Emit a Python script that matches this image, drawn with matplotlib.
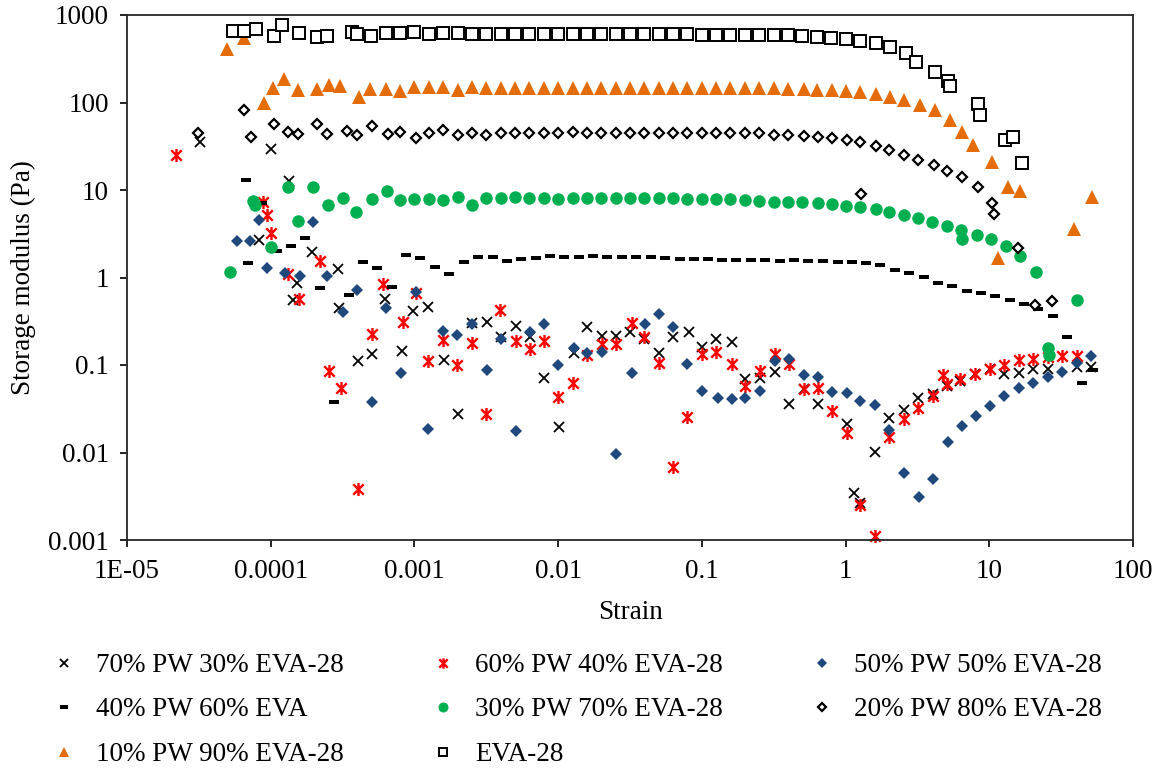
import matplotlib
matplotlib.use('Agg')
import matplotlib.pyplot as plt
from matplotlib.lines import Line2D
from matplotlib.path import Path
from matplotlib.ticker import NullLocator

plt.rcParams['font.family'] = ['Liberation Serif', 'DejaVu Serif']
FS = 19.5

# ---------------- data (strain, storage modulus in Pa) ----------------
PLATEAU_STRAIN = [2.51e-3, 3.16e-3, 3.98e-3, 5.01e-3, 6.31e-3, 7.94e-3, 1.0e-2, 1.26e-2,
                  1.58e-2, 2.0e-2, 2.51e-2, 3.16e-2, 3.98e-2, 5.01e-2, 6.31e-2, 7.94e-2,
                  0.1, 0.126, 0.158, 0.2, 0.251, 0.316]

x_70 = [3.2e-5, 8.3e-5, 1.0e-4, 1.34e-4, 1.43e-4, 1.53e-4, 1.94e-4, 2.94e-4, 2.99e-4, 4.07e-4,
        5.1e-4, 6.2e-4, 8.2e-4, 9.8e-4, 1.25e-3, 1.61e-3, 2.02e-3, 2.52e-3, 3.2e-3, 4.0e-3,
        5.1e-3, 6.4e-3, 8.0e-3, 1.02e-2, 1.28e-2, 1.6e-2, 2.03e-2, 2.54e-2, 3.18e-2, 3.98e-2,
        5.07e-2, 6.3e-2, 8.1e-2, 0.101, 0.126, 0.161, 0.201, 0.252, 0.321, 0.401,
        0.51, 0.638, 1.02, 1.14, 1.27, 1.59, 2.02, 2.53, 3.17, 4.03,
        5.05, 6.3, 7.9, 10.1, 12.6, 16.0, 20.0, 25.5, 40.6, 50.8]
y_70 = [35.4, 2.68, 29.4, 12.7, 0.553, 0.865, 1.96, 1.25, 0.448, 0.111,
        0.134, 0.568, 0.145, 0.414, 0.46, 0.114, 0.0275, 0.302, 0.31, 0.209,
        0.279, 0.209, 0.071, 0.0196, 0.137, 0.272, 0.214, 0.214, 0.238, 0.198,
        0.137, 0.209, 0.238, 0.161, 0.198, 0.183, 0.069, 0.071, 0.083, 0.0358,
        0.053, 0.0358, 0.0212, 0.00345, 0.00265, 0.0101, 0.0248, 0.0306, 0.042, 0.0466,
        0.0576, 0.0657, 0.0789, 0.09, 0.0789, 0.081, 0.09, 0.09, 0.095, 0.095]

x_60 = [2.19e-5, 8.85e-5, 9.4e-5, 1.0e-4, 1.32e-4, 1.58e-4, 2.21e-4, 2.55e-4, 3.09e-4, 4.07e-4,
        5.08e-4, 6.07e-4, 8.36e-4, 1.03e-3, 1.25e-3, 1.58e-3, 1.99e-3, 2.52e-3, 3.16e-3, 3.95e-3,
        5.1e-3, 6.4e-3, 8.0e-3, 1.0e-2, 1.26e-2, 1.6e-2, 2.03e-2, 2.54e-2, 3.24e-2, 3.98e-2,
        5.07e-2, 6.3e-2, 7.9e-2, 0.101, 0.126, 0.161, 0.201, 0.252, 0.321, 0.401,
        0.51, 0.638, 0.81, 1.02, 1.27, 1.59, 2.02, 2.53, 3.17, 4.03,
        4.73, 5.05, 6.3, 7.9, 10.1, 12.6, 16.0, 20.0, 25.5, 31.9, 40.6]
y_60 = [25.1, 7.3, 5.2, 3.2, 1.10, 0.568, 1.54, 0.0854, 0.0546, 0.00383,
        0.226, 0.843, 0.31, 0.665, 0.111, 0.193, 0.1, 0.178, 0.0275, 0.425,
        0.188, 0.152, 0.188, 0.043, 0.0623, 0.13, 0.174, 0.174, 0.302, 0.209,
        0.105, 0.00683, 0.0255, 0.134, 0.141, 0.103, 0.0576, 0.0854, 0.134, 0.103,
        0.0532, 0.0546, 0.0298, 0.0167, 0.00251, 0.00111, 0.015, 0.0241, 0.0323, 0.0442,
        0.0769, 0.0607, 0.0692, 0.0789, 0.09, 0.1, 0.114, 0.117, 0.123, 0.127, 0.127]

x_50 = [5.83e-5, 7.2e-5, 8.3e-5, 9.4e-5, 1.26e-4, 1.6e-4, 1.97e-4, 2.47e-4, 3.19e-4, 4.0e-4,
        5.08e-4, 6.37e-4, 8.1e-4, 1.03e-3, 1.25e-3, 1.58e-3, 1.99e-3, 2.52e-3, 3.2e-3, 4.0e-3,
        5.1e-3, 6.4e-3, 8.0e-3, 1.0e-2, 1.28e-2, 1.6e-2, 2.03e-2, 2.54e-2, 3.24e-2, 4.05e-2,
        5.07e-2, 6.3e-2, 7.9e-2, 0.101, 0.129, 0.161, 0.201, 0.252, 0.321, 0.401,
        0.51, 0.638, 0.81, 1.02, 1.27, 1.59, 2.02, 2.53, 3.22, 4.03,
        5.13, 6.43, 8.04, 10.1, 12.6, 16.0, 20.0, 25.5, 31.9, 40.6, 50.8]
y_50 = [2.61, 2.61, 4.54, 1.28, 1.13, 1.04, 4.31, 1.04, 0.403, 0.72,
        0.0378, 0.448, 0.081, 0.683, 0.0186, 0.245, 0.22, 0.294, 0.0877, 0.198,
        0.0176, 0.238, 0.294, 0.1, 0.156, 0.137, 0.141, 0.0096, 0.081, 0.294,
        0.383, 0.272, 0.103, 0.0504, 0.042, 0.0409, 0.042, 0.0504, 0.111, 0.117,
        0.0769, 0.0729, 0.0491, 0.0479, 0.0388, 0.0349, 0.0181, 0.00583, 0.0031, 0.00498,
        0.0132, 0.0201, 0.0261, 0.034, 0.0442, 0.0546, 0.0623, 0.0729, 0.0832, 0.105, 0.127]

x_40 = [6.7e-5, 7.0e-5, 8.7e-5, 1.1e-4, 1.39e-4, 1.74e-4, 2.2e-4, 2.77e-4, 3.5e-4, 4.4e-4,
        5.5e-4, 7.0e-4, 8.8e-4, 1.1e-3, 1.39e-3, 1.74e-3, 2.2e-3, 2.77e-3, 3.5e-3, 4.4e-3,
        5.5e-3, 7.0e-3, 8.8e-3, 1.1e-2, 1.39e-2, 1.74e-2, 2.2e-2, 2.77e-2, 3.5e-2, 4.4e-2,
        5.5e-2, 7.0e-2, 8.8e-2, 0.11, 0.139, 0.174, 0.22, 0.277, 0.35, 0.44,
        0.55, 0.70, 0.88, 1.1, 1.39, 1.74, 2.2, 2.77, 3.5, 4.4,
        5.5, 7.0, 8.8, 11.0, 13.9, 17.4, 22.0, 27.7, 35.0, 44.0, 53.0]
y_40 = [13.0, 1.47, 7.1, 2.0, 2.29, 2.83, 0.76, 0.038, 0.63, 1.50,
        1.28, 0.78, 1.81, 1.67, 1.32, 1.10, 1.50, 1.71, 1.71, 1.54,
        1.63, 1.67, 1.76, 1.71, 1.71, 1.76, 1.71, 1.71, 1.71, 1.71,
        1.67, 1.63, 1.63, 1.63, 1.58, 1.58, 1.58, 1.58, 1.54, 1.58,
        1.54, 1.54, 1.50, 1.50, 1.47, 1.39, 1.22, 1.12, 1.01, 0.87,
        0.80, 0.70, 0.67, 0.61, 0.55, 0.50, 0.44, 0.36, 0.21, 0.062, 0.088]

x_30 = ([5.2e-5, 7.5e-5, 7.8e-5, 1.0e-4, 1.32e-4, 1.55e-4, 1.97e-4, 2.5e-4, 3.2e-4, 3.9e-4,
         5.1e-4, 6.4e-4, 7.9e-4, 1.0e-3, 1.26e-3, 1.58e-3, 2.0e-3] + PLATEAU_STRAIN +
        [0.40, 0.50, 0.64, 0.80, 1.0, 1.27, 1.62, 2.0, 2.54, 3.2, 4.0, 5.1, 6.4, 6.5, 8.2,
         10.2, 13.0, 16.3, 21.0, 41.0, 25.5, 26.0])
y_30 = ([1.16, 7.5, 6.7, 2.23, 10.8, 4.4, 10.8, 6.7, 8.1, 5.6, 7.9, 9.7, 7.7, 7.9, 7.9, 7.7, 8.3] +
        [6.7, 8.0, 8.2, 8.4, 8.2, 8.2, 7.8, 8.0, 8.2, 8.0, 8.0, 8.0, 8.0, 8.0, 8.0, 7.9, 7.9,
         7.9, 7.8, 7.7, 7.55, 7.35] +
        [7.3, 7.3, 7.1, 6.9, 6.6, 6.4, 6.1, 5.6, 5.2, 4.8, 4.3, 3.9, 3.5, 2.75, 3.1,
         2.75, 2.3, 1.76, 1.16, 0.55, 0.156, 0.13])

x_20 = ([3.1e-5, 6.5e-5, 7.3e-5, 1.05e-4, 1.32e-4, 1.55e-4, 2.1e-4, 2.47e-4, 3.4e-4, 4.0e-4,
         5.1e-4, 6.5e-4, 7.9e-4, 1.02e-3, 1.26e-3, 1.58e-3, 2.0e-3] + PLATEAU_STRAIN +
        [0.40, 0.51, 0.64, 0.81, 1.02, 1.27, 1.62, 2.0, 2.57, 3.2, 4.1, 5.1, 6.5, 8.4, 10.4,
         10.7, 15.8, 20.7, 27.2, 1.29])
y_20 = ([45, 82, 40, 57, 46, 44, 57, 44, 47, 43, 54, 44, 46, 39, 45, 49, 42] +
        [44.5, 43, 44.5, 45, 45, 44.5, 44.5, 45.5, 44.5, 44.5, 44.5, 44.5, 44.5, 44.5, 44.5,
         44.5, 44.5, 44.5, 44.5, 44.5, 44.5, 43] +
        [42.5, 41.4, 40.3, 39.3, 37.3, 35.4, 31.8, 28.7, 25.1, 22.0, 19.3, 16.5, 14.1, 10.8, 7.1,
         5.3, 2.2, 0.49, 0.54, 9.0])

x_10 = ([4.97e-5, 6.5e-5, 9.0e-5, 1.04e-4, 1.24e-4, 1.55e-4, 2.1e-4, 2.55e-4, 3.04e-4, 4.13e-4,
         4.92e-4, 6.3e-4, 7.9e-4, 1.0e-3, 1.26e-3, 1.58e-3, 2.0e-3] + PLATEAU_STRAIN +
        [0.40, 0.51, 0.63, 0.81, 1.0, 1.26, 1.62, 2.05, 2.55, 3.3, 4.2, 5.3, 6.5, 7.7, 10.5,
         13.4, 16.3, 11.5, 39.0, 52.0])
y_10 = ([408, 546, 99, 146, 186, 139, 143, 158, 155, 116, 143, 143, 135, 150, 150, 150, 140] +
        [150, 148, 148, 148, 148, 148, 148, 148, 148, 148, 148, 148, 148, 148, 148, 148, 147,
         147, 146, 146, 145, 145] +
        [143, 143, 139, 139, 135, 132, 125, 116, 107, 94, 82, 63, 46, 33, 21,
         10.8, 9.7, 1.67, 3.6, 8.3])

x_eva = ([5.5e-5, 6.5e-5, 7.9e-5, 1.05e-4, 1.2e-4, 1.58e-4, 2.1e-4, 2.45e-4, 3.7e-4, 4.0e-4,
          5.0e-4, 6.3e-4, 7.9e-4, 1.0e-3, 1.26e-3, 1.58e-3, 2.0e-3] + PLATEAU_STRAIN +
         [0.40, 0.50, 0.63, 0.79, 1.0, 1.26, 1.62, 2.05, 2.64, 3.07, 4.17, 5.13, 5.3, 8.3, 8.6,
          12.8, 14.6, 16.8])
y_eva = ([656, 656, 692, 575, 769, 622, 561, 575, 640, 606, 575, 622, 622, 640, 606, 622, 622] +
         [610, 610, 606, 606, 606, 610, 606, 606, 606, 606, 606, 600, 600, 600, 600, 600, 595,
          595, 590, 590, 590, 590] +
         [590, 575, 561, 547, 533, 506, 481, 436, 372, 293, 225, 178, 153, 96, 72,
          37.3, 40.3, 20.4])

LABELS = ['70% PW 30% EVA-28', '60% PW 40% EVA-28', '50% PW 50% EVA-28', '40% PW 60% EVA',
          '30% PW 70% EVA-28', '20% PW 80% EVA-28', '10% PW 90% EVA-28', 'EVA-28']
XTICKS = [1e-5, 1e-4, 1e-3, 1e-2, 1e-1, 1, 10, 100]
XTICK_LABELS = ['1E-05', '0.0001', '0.001', '0.01', '0.1', '1', '10', '100']
YTICKS = [1e-3, 1e-2, 1e-1, 1, 10, 100, 1000]
YTICK_LABELS = ['0.001', '0.01', '0.1', '1', '10', '100', '1000']

# ---------------- styles ----------------
DASH = [(-1, -0.42), (1, -0.42), (1, 0.42), (-1, 0.42), (-1, -0.42)]
STAR = Path([(0, -1), (0, 1), (-0.8, -0.8), (0.8, 0.8), (-0.8, 0.8), (0.8, -0.8)],
            [Path.MOVETO, Path.LINETO, Path.MOVETO, Path.LINETO, Path.MOVETO, Path.LINETO])
styles = [
    dict(marker='x', ms=7.4, mew=1.3, color='black', mfc='none'),
    dict(marker=STAR, ms=9.4, mew=1.7, color='#FF0000', mfc='none'),
    dict(marker='D', ms=6.0, mew=0, color='#1F497D', mfc='#1F497D'),
    dict(marker=DASH, ms=7.8, mew=0, color='black', mfc='black'),
    dict(marker='o', ms=9.0, mew=0, color='#00B050', mfc='#00B050'),
    dict(marker='D', ms=5.2, mew=1.6, color='black', mfc='white'),
    dict(marker='^', ms=9.6, mew=0, color='#E46C0A', mfc='#E46C0A'),
    dict(marker='s', ms=8.0, mew=1.4, color='black', mfc='white'),
]
series = [(x_70, y_70), (x_60, y_60), (x_50, y_50), (x_40, y_40),
          (x_30, y_30), (x_20, y_20), (x_10, y_10), (x_eva, y_eva)]

fig = plt.figure(figsize=(11.63, 7.69), dpi=100)
ax = fig.add_axes([127 / 1163, 1 - 540 / 769, 1006 / 1163, 525 / 769])

handles = []
for (xs, ys), st, lab in zip(series, styles, LABELS):
    st = dict(st)
    col = st.pop('color')
    ax.plot(xs, ys, linestyle='none', color=col, mec=col, label=lab, clip_on=False, **st)
    handles.append(Line2D([], [], linestyle='none', color=col, mec=col, **st))

ax.set_xscale('log')
ax.set_yscale('log')
ax.set_xlim(1e-5, 100)
ax.set_ylim(1e-3, 1000)
ax.set_xticks(XTICKS)
ax.set_xticklabels(XTICK_LABELS)
ax.set_yticks(YTICKS)
ax.set_yticklabels(YTICK_LABELS)
ax.xaxis.set_minor_locator(NullLocator())
ax.yaxis.set_minor_locator(NullLocator())
ax.tick_params(axis='both', which='major', direction='out', length=5, width=1.2,
               labelsize=FS, color='black')
ax.tick_params(axis='x', pad=9)
ax.tick_params(axis='y', pad=8)
for sp in ax.spines.values():
    sp.set_linewidth(1.3)
    sp.set_color('#262626')

ax.set_xlabel('Strain', fontsize=FS, labelpad=11)
ax.set_ylabel('Storage modulus (Pa)', fontsize=FS, labelpad=9)

order = [0, 3, 6, 1, 4, 7, 2, 5]
fig.legend([handles[i] for i in order], [LABELS[i] for i in order],
           loc='upper left', bbox_to_anchor=(50 / 1163, 1 - 653 / 769), ncol=3,
           frameon=False, fontsize=FS, handlelength=1.0, handletextpad=0.7,
           columnspacing=3.15, labelspacing=0.72, borderpad=0, borderaxespad=0,
           markerscale=0.8)

fig.savefig('out.png', dpi=100)
